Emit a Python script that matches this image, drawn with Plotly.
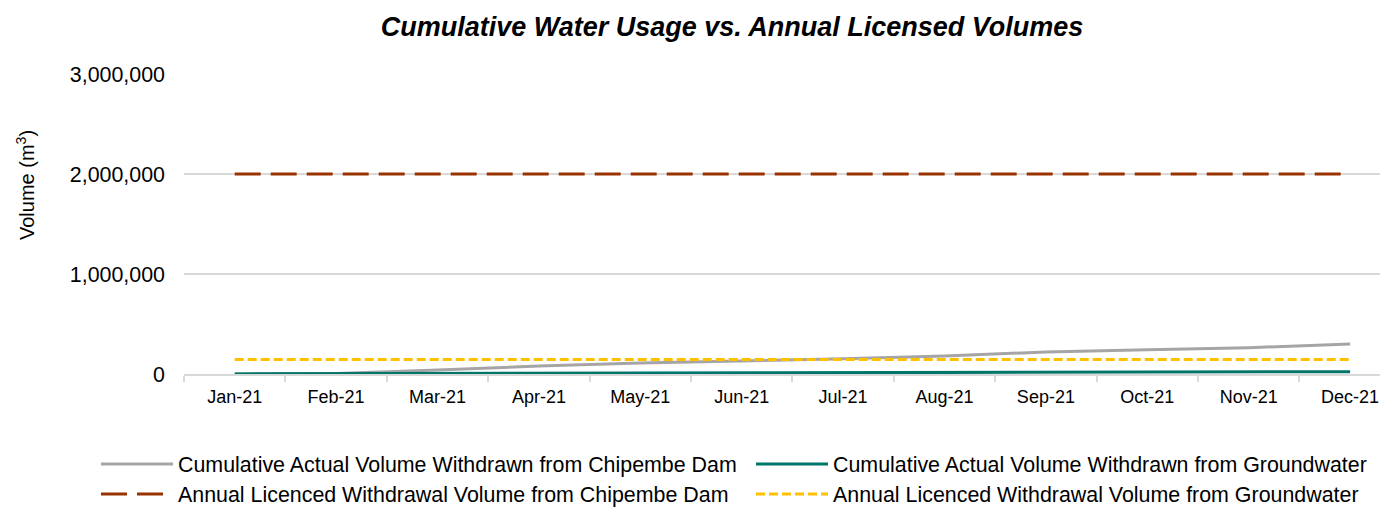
import plotly.graph_objects as go

months = ["Jan-21", "Feb-21", "Mar-21", "Apr-21", "May-21", "Jun-21",
          "Jul-21", "Aug-21", "Sep-21", "Oct-21", "Nov-21", "Dec-21"]
dam_actual = [0, 5000, 40000, 80000, 110000, 130000,
              153000, 180000, 220000, 243000, 263000, 300000]
gw_actual = [1000, 2500, 4500, 6500, 8500, 10500,
             12500, 14500, 16500, 18500, 21000, 23000]
dam_licence = [2000000] * 12
gw_licence = [145000] * 12

names = ["Cumulative Actual Volume Withdrawn from Chipembe Dam",
         "Cumulative Actual Volume Withdrawn from Groundwater",
         "Annual Licenced Withdrawal Volume from Chipembe Dam",
         "Annual Licenced Withdrawal Volume from Groundwater"]

FONT = "Liberation Sans, Arial, sans-serif"

fig = go.Figure()
fig.add_trace(go.Scatter(x=months, y=dam_actual, name=names[0], mode="lines",
                         line=dict(color="#A5A5A5", width=3), legend="legend"))
fig.add_trace(go.Scatter(x=months, y=gw_actual, name=names[1], mode="lines",
                         line=dict(color="#00756A", width=3), legend="legend2"))
fig.add_trace(go.Scatter(x=months, y=dam_licence, name=names[2], mode="lines",
                         line=dict(color="#993300", width=3, dash="26px,10px"), legend="legend3"))
fig.add_trace(go.Scatter(x=months, y=gw_licence, name=names[3], mode="lines",
                         line=dict(color="#FFC000", width=3, dash="9px,4px"), legend="legend4"))


def leg(x, y):
    return dict(orientation="h", xref="container", yref="container",
                x=x / 1381, xanchor="left", y=1 - y / 512, yanchor="middle",
                font=dict(family=FONT, size=21.4, color="#000000"),
                itemwidth=72, bgcolor="rgba(0,0,0,0)",
                itemclick=False, itemdoubleclick=False)


fig.update_layout(
    width=1381, height=512,
    margin=dict(l=184, r=1, t=74, b=138, autoexpand=False),
    paper_bgcolor="white", plot_bgcolor="white",
    title=dict(text="<b><i>Cumulative Water Usage vs. Annual Licensed Volumes</i></b>",
               x=732 / 1381, xanchor="center", xref="container",
               y=1 - 27 / 512, yanchor="middle", yref="container",
               font=dict(family=FONT, size=27, color="#000000")),
    showlegend=True,
    legend=leg(96, 464),
    legend2=leg(751, 464),
    legend3=leg(96, 494),
    legend4=leg(751, 494),
    xaxis=dict(type="category", range=[-0.5, 11.295],
               showline=True, linecolor="#D9D9D9", linewidth=1.5,
               ticks="outside", tickson="boundaries", ticklen=6,
               tickcolor="#D9D9D9", tickwidth=1.5,
               showgrid=False, zeroline=False, ticklabelstandoff=6,
               tickfont=dict(family=FONT, size=18, color="#000000")),
    yaxis=dict(range=[0, 3000000], tickvals=[0, 1000000, 2000000, 3000000],
               ticktext=["0", "1,000,000", "2,000,000", "3,000,000"],
               showgrid=True, gridcolor="#D9D9D9", gridwidth=1.5,
               zeroline=False, showline=False, ticks="",
               ticklabelstandoff=18,
               tickfont=dict(family=FONT, size=21.4, color="#000000")),
    annotations=[dict(text="Volume (m<sup>3</sup>)", textangle=-90,
                      xref="paper", x=(25 - 184) / 1196, xanchor="center",
                      yref="paper", y=(374 - 185) / 300, yanchor="middle",
                      showarrow=False,
                      font=dict(family=FONT, size=20, color="#000000"))],
)

fig.write_html("out.html", config={"displayModeBar": False},
               post_script="document.body.style.margin='0';")
